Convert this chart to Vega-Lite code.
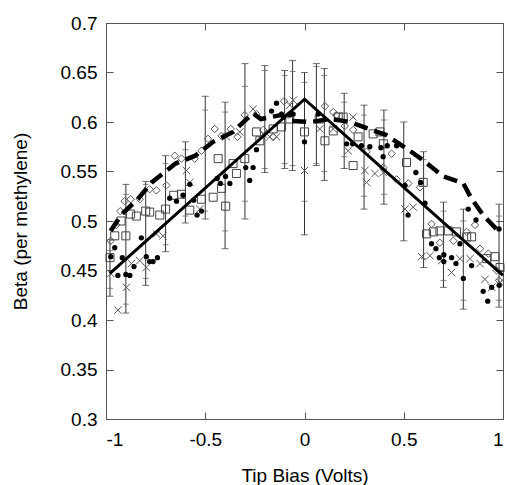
{
  "$schema": "https://vega.github.io/schema/vega-lite/v6.json",
  "autosize": "none",
  "width": 397,
  "height": 396,
  "padding": {"left": 106, "top": 23, "right": 4, "bottom": 66},
  "background": "white",
  "config": {
    "view": {"stroke": "#555", "strokeWidth": 1},
    "font": "Liberation Sans",
    "axis": {
      "labelFont": "Liberation Sans", "titleFont": "Liberation Sans",
      "labelFontSize": 19, "titleFontSize": 19, "titleFontWeight": "normal",
      "labelColor": "black", "titleColor": "black",
      "domainColor": "#555", "tickColor": "#555", "tickSize": -7, "tickWidth": 1, "grid": false
    }
  },
  "datasets": {
    "err": [
      {"x": -0.98, "lo": 0.424, "hi": 0.481},
      {"x": -0.9, "lo": 0.407, "hi": 0.537},
      {"x": -0.8, "lo": 0.435, "hi": 0.54},
      {"x": -0.7, "lo": 0.469, "hi": 0.566},
      {"x": -0.6, "lo": 0.498, "hi": 0.58},
      {"x": -0.5, "lo": 0.502, "hi": 0.626},
      {"x": -0.4, "lo": 0.472, "hi": 0.62},
      {"x": -0.3, "lo": 0.502, "hi": 0.659},
      {"x": -0.2, "lo": 0.549, "hi": 0.657},
      {"x": -0.1, "lo": 0.553, "hi": 0.652},
      {"x": -0.06, "lo": 0.551, "hi": 0.662},
      {"x": 0.0, "lo": 0.486, "hi": 0.65},
      {"x": 0.06, "lo": 0.556, "hi": 0.659},
      {"x": 0.1, "lo": 0.541, "hi": 0.654},
      {"x": 0.2, "lo": 0.553, "hi": 0.629},
      {"x": 0.3, "lo": 0.512, "hi": 0.617},
      {"x": 0.4, "lo": 0.517, "hi": 0.612},
      {"x": 0.5, "lo": 0.48, "hi": 0.6},
      {"x": 0.6, "lo": 0.453, "hi": 0.57},
      {"x": 0.7, "lo": 0.433, "hi": 0.519},
      {"x": 0.8, "lo": 0.411, "hi": 0.512},
      {"x": 0.98, "lo": 0.413, "hi": 0.517}
    ],
    "inner": [
      {"x": -0.98, "lo": 0.432, "hi": 0.47},
      {"x": -0.9, "lo": 0.416, "hi": 0.527},
      {"x": -0.8, "lo": 0.442, "hi": 0.537},
      {"x": -0.7, "lo": 0.476, "hi": 0.558},
      {"x": -0.6, "lo": 0.505, "hi": 0.572},
      {"x": -0.5, "lo": 0.51, "hi": 0.612},
      {"x": -0.4, "lo": 0.49, "hi": 0.61},
      {"x": -0.3, "lo": 0.52, "hi": 0.636},
      {"x": -0.2, "lo": 0.553, "hi": 0.652},
      {"x": -0.1, "lo": 0.558, "hi": 0.647},
      {"x": -0.06, "lo": 0.556, "hi": 0.651},
      {"x": 0.0, "lo": 0.52, "hi": 0.64},
      {"x": 0.06, "lo": 0.558, "hi": 0.656},
      {"x": 0.1, "lo": 0.55, "hi": 0.647},
      {"x": 0.2, "lo": 0.565, "hi": 0.62},
      {"x": 0.3, "lo": 0.525, "hi": 0.607},
      {"x": 0.4, "lo": 0.527, "hi": 0.602},
      {"x": 0.6, "lo": 0.462, "hi": 0.562},
      {"x": 0.7, "lo": 0.44, "hi": 0.51},
      {"x": 0.8, "lo": 0.42, "hi": 0.5},
      {"x": 0.98, "lo": 0.42, "hi": 0.505}
    ],
    "pts": [
      {"x": -0.976, "y": 0.464, "s": "circle"},
      {"x": -0.956, "y": 0.473, "s": "circle"},
      {"x": -0.94, "y": 0.445, "s": "circle"},
      {"x": -0.918, "y": 0.463, "s": "circle"},
      {"x": -0.9, "y": 0.446, "s": "circle"},
      {"x": -0.88, "y": 0.445, "s": "circle"},
      {"x": -0.859, "y": 0.454, "s": "circle"},
      {"x": -0.822, "y": 0.483, "s": "circle"},
      {"x": -0.797, "y": 0.464, "s": "circle"},
      {"x": -0.78, "y": 0.459, "s": "circle"},
      {"x": -0.763, "y": 0.459, "s": "circle"},
      {"x": -0.741, "y": 0.463, "s": "circle"},
      {"x": -0.679, "y": 0.523, "s": "circle"},
      {"x": -0.645, "y": 0.52, "s": "circle"},
      {"x": -0.612, "y": 0.526, "s": "circle"},
      {"x": -0.578, "y": 0.537, "s": "circle"},
      {"x": -0.558, "y": 0.521, "s": "circle"},
      {"x": -0.541, "y": 0.506, "s": "circle"},
      {"x": -0.519, "y": 0.51, "s": "circle"},
      {"x": -0.44, "y": 0.543, "s": "circle"},
      {"x": -0.424, "y": 0.538, "s": "circle"},
      {"x": -0.398, "y": 0.545, "s": "circle"},
      {"x": -0.376, "y": 0.538, "s": "circle"},
      {"x": -0.296, "y": 0.554, "s": "circle"},
      {"x": -0.276, "y": 0.541, "s": "circle"},
      {"x": -0.259, "y": 0.554, "s": "circle"},
      {"x": -0.242, "y": 0.572, "s": "circle"},
      {"x": -0.166, "y": 0.611, "s": "circle"},
      {"x": -0.141, "y": 0.619, "s": "circle"},
      {"x": -0.116, "y": 0.608, "s": "circle"},
      {"x": -0.074, "y": 0.607, "s": "circle"},
      {"x": -0.057, "y": 0.608, "s": "circle"},
      {"x": 0.0, "y": 0.58, "s": "circle"},
      {"x": 0.069, "y": 0.608, "s": "circle"},
      {"x": 0.212, "y": 0.578, "s": "circle"},
      {"x": 0.242, "y": 0.578, "s": "circle"},
      {"x": 0.287, "y": 0.576, "s": "circle"},
      {"x": 0.329, "y": 0.575, "s": "circle"},
      {"x": 0.385, "y": 0.574, "s": "circle"},
      {"x": 0.396, "y": 0.565, "s": "circle"},
      {"x": 0.417, "y": 0.576, "s": "circle"},
      {"x": 0.464, "y": 0.576, "s": "circle"},
      {"x": 0.506, "y": 0.536, "s": "circle"},
      {"x": 0.522, "y": 0.506, "s": "circle"},
      {"x": 0.561, "y": 0.549, "s": "circle"},
      {"x": 0.585, "y": 0.539, "s": "circle"},
      {"x": 0.607, "y": 0.518, "s": "circle"},
      {"x": 0.64, "y": 0.477, "s": "circle"},
      {"x": 0.662, "y": 0.472, "s": "circle"},
      {"x": 0.679, "y": 0.463, "s": "circle"},
      {"x": 0.702, "y": 0.466, "s": "circle"},
      {"x": 0.702, "y": 0.459, "s": "circle"},
      {"x": 0.741, "y": 0.463, "s": "circle"},
      {"x": 0.763, "y": 0.457, "s": "circle"},
      {"x": 0.783, "y": 0.477, "s": "circle"},
      {"x": 0.8, "y": 0.442, "s": "circle"},
      {"x": 0.825, "y": 0.512, "s": "circle"},
      {"x": 0.842, "y": 0.455, "s": "circle"},
      {"x": 0.864, "y": 0.501, "s": "circle"},
      {"x": 0.9, "y": 0.429, "s": "circle"},
      {"x": 0.923, "y": 0.419, "s": "circle"},
      {"x": 0.943, "y": 0.433, "s": "circle"},
      {"x": 0.98, "y": 0.492, "s": "circle"},
      {"x": 0.981, "y": 0.435, "s": "circle"},

      {"x": -0.976, "y": 0.48, "s": "diamond"},
      {"x": -0.948, "y": 0.496, "s": "diamond"},
      {"x": -0.928, "y": 0.51, "s": "diamond"},
      {"x": -0.906, "y": 0.52, "s": "diamond"},
      {"x": -0.876, "y": 0.522, "s": "diamond"},
      {"x": -0.83, "y": 0.522, "s": "diamond"},
      {"x": -0.78, "y": 0.532, "s": "diamond"},
      {"x": -0.746, "y": 0.531, "s": "diamond"},
      {"x": -0.696, "y": 0.536, "s": "diamond"},
      {"x": -0.654, "y": 0.566, "s": "diamond"},
      {"x": -0.62, "y": 0.563, "s": "diamond"},
      {"x": -0.553, "y": 0.563, "s": "diamond"},
      {"x": -0.519, "y": 0.571, "s": "diamond"},
      {"x": -0.486, "y": 0.583, "s": "diamond"},
      {"x": -0.452, "y": 0.593, "s": "diamond"},
      {"x": -0.418, "y": 0.586, "s": "diamond"},
      {"x": -0.371, "y": 0.593, "s": "diamond"},
      {"x": -0.338, "y": 0.585, "s": "diamond"},
      {"x": -0.301, "y": 0.607, "s": "diamond"},
      {"x": -0.242, "y": 0.608, "s": "diamond"},
      {"x": -0.208, "y": 0.592, "s": "diamond"},
      {"x": -0.158, "y": 0.585, "s": "diamond"},
      {"x": -0.103, "y": 0.621, "s": "diamond"},
      {"x": 0.103, "y": 0.616, "s": "diamond"},
      {"x": 0.145, "y": 0.61, "s": "diamond"},
      {"x": 0.161, "y": 0.607, "s": "diamond"},
      {"x": 0.203, "y": 0.596, "s": "diamond"},
      {"x": 0.245, "y": 0.592, "s": "diamond"},
      {"x": 0.313, "y": 0.57, "s": "diamond"},
      {"x": 0.397, "y": 0.554, "s": "diamond"},
      {"x": 0.439, "y": 0.568, "s": "diamond"},
      {"x": 0.464, "y": 0.542, "s": "diamond"},
      {"x": 0.523, "y": 0.538, "s": "diamond"},
      {"x": 0.582, "y": 0.534, "s": "diamond"},
      {"x": 0.64, "y": 0.497, "s": "diamond"},
      {"x": 0.682, "y": 0.478, "s": "diamond"},
      {"x": 0.75, "y": 0.48, "s": "diamond"},
      {"x": 0.817, "y": 0.489, "s": "diamond"},
      {"x": 0.859, "y": 0.496, "s": "diamond"},
      {"x": 0.884, "y": 0.472, "s": "diamond"},
      {"x": 0.926, "y": 0.467, "s": "diamond"},
      {"x": 0.968, "y": 0.45, "s": "diamond"},
      {"x": 0.98, "y": 0.44, "s": "diamond"},

      {"x": -0.98, "y": 0.463, "s": "square"},
      {"x": -0.956, "y": 0.485, "s": "square"},
      {"x": -0.924, "y": 0.5, "s": "square"},
      {"x": -0.9, "y": 0.485, "s": "square"},
      {"x": -0.876, "y": 0.507, "s": "square"},
      {"x": -0.847, "y": 0.505, "s": "square"},
      {"x": -0.8, "y": 0.51, "s": "square"},
      {"x": -0.78, "y": 0.509, "s": "square"},
      {"x": -0.729, "y": 0.506, "s": "square"},
      {"x": -0.7, "y": 0.512, "s": "square"},
      {"x": -0.659, "y": 0.526, "s": "square"},
      {"x": -0.62, "y": 0.527, "s": "square"},
      {"x": -0.578, "y": 0.511, "s": "square"},
      {"x": -0.519, "y": 0.522, "s": "square"},
      {"x": -0.46, "y": 0.524, "s": "square"},
      {"x": -0.435, "y": 0.563, "s": "square"},
      {"x": -0.418, "y": 0.533, "s": "square"},
      {"x": -0.397, "y": 0.515, "s": "square"},
      {"x": -0.36, "y": 0.558, "s": "square"},
      {"x": -0.343, "y": 0.548, "s": "square"},
      {"x": -0.301, "y": 0.563, "s": "square"},
      {"x": -0.242, "y": 0.59, "s": "square"},
      {"x": -0.225, "y": 0.581, "s": "square"},
      {"x": -0.158, "y": 0.593, "s": "square"},
      {"x": -0.116, "y": 0.595, "s": "square"},
      {"x": -0.074, "y": 0.603, "s": "square"},
      {"x": 0.0, "y": 0.59, "s": "square"},
      {"x": 0.074, "y": 0.603, "s": "square"},
      {"x": 0.103, "y": 0.581, "s": "square"},
      {"x": 0.145, "y": 0.591, "s": "square"},
      {"x": 0.17, "y": 0.605, "s": "square"},
      {"x": 0.195, "y": 0.605, "s": "square"},
      {"x": 0.245, "y": 0.556, "s": "square"},
      {"x": 0.27, "y": 0.585, "s": "square"},
      {"x": 0.346, "y": 0.588, "s": "square"},
      {"x": 0.38, "y": 0.59, "s": "square"},
      {"x": 0.397, "y": 0.578, "s": "square"},
      {"x": 0.514, "y": 0.559, "s": "square"},
      {"x": 0.598, "y": 0.539, "s": "square"},
      {"x": 0.615, "y": 0.487, "s": "square"},
      {"x": 0.649, "y": 0.489, "s": "square"},
      {"x": 0.682, "y": 0.49, "s": "square"},
      {"x": 0.724, "y": 0.49, "s": "square"},
      {"x": 0.766, "y": 0.489, "s": "square"},
      {"x": 0.817, "y": 0.484, "s": "square"},
      {"x": 0.842, "y": 0.484, "s": "square"},
      {"x": 0.918, "y": 0.462, "s": "square"},
      {"x": 0.96, "y": 0.464, "s": "square"},
      {"x": 0.985, "y": 0.453, "s": "square"},

      {"x": -0.976, "y": 0.447, "s": "cross"},
      {"x": -0.94, "y": 0.41, "s": "cross"},
      {"x": -0.897, "y": 0.433, "s": "cross"},
      {"x": -0.872, "y": 0.457, "s": "cross"},
      {"x": -0.83, "y": 0.46, "s": "cross"},
      {"x": -0.797, "y": 0.453, "s": "cross"},
      {"x": -0.746, "y": 0.487, "s": "cross"},
      {"x": -0.713, "y": 0.485, "s": "cross"},
      {"x": -0.595, "y": 0.551, "s": "cross"},
      {"x": -0.578, "y": 0.539, "s": "cross"},
      {"x": -0.528, "y": 0.512, "s": "cross"},
      {"x": -0.393, "y": 0.585, "s": "cross"},
      {"x": -0.326, "y": 0.59, "s": "cross"},
      {"x": -0.259, "y": 0.613, "s": "cross"},
      {"x": -0.208, "y": 0.588, "s": "cross"},
      {"x": -0.175, "y": 0.585, "s": "cross"},
      {"x": -0.141, "y": 0.585, "s": "cross"},
      {"x": -0.099, "y": 0.607, "s": "cross"},
      {"x": -0.074, "y": 0.617, "s": "cross"},
      {"x": -0.057, "y": 0.622, "s": "cross"},
      {"x": 0.0, "y": 0.551, "s": "cross"},
      {"x": 0.077, "y": 0.593, "s": "cross"},
      {"x": 0.145, "y": 0.593, "s": "cross"},
      {"x": 0.22, "y": 0.571, "s": "cross"},
      {"x": 0.245, "y": 0.605, "s": "cross"},
      {"x": 0.304, "y": 0.551, "s": "cross"},
      {"x": 0.313, "y": 0.539, "s": "cross"},
      {"x": 0.355, "y": 0.548, "s": "cross"},
      {"x": 0.397, "y": 0.549, "s": "cross"},
      {"x": 0.506, "y": 0.512, "s": "cross"},
      {"x": 0.548, "y": 0.514, "s": "cross"},
      {"x": 0.59, "y": 0.464, "s": "cross"},
      {"x": 0.632, "y": 0.465, "s": "cross"},
      {"x": 0.691, "y": 0.46, "s": "cross"},
      {"x": 0.741, "y": 0.448, "s": "cross"},
      {"x": 0.783, "y": 0.462, "s": "cross"},
      {"x": 0.834, "y": 0.462, "s": "cross"},
      {"x": 0.884, "y": 0.457, "s": "cross"},
      {"x": 0.909, "y": 0.441, "s": "cross"},
      {"x": 0.943, "y": 0.433, "s": "cross"},
      {"x": 0.985, "y": 0.438, "s": "cross"}
    ],
    "solid": [
      {"x": -0.98, "y": 0.447},
      {"x": 0.0, "y": 0.623},
      {"x": 1.0, "y": 0.445}
    ],
    "dashed": [
      {"x": -0.977, "y": 0.49},
      {"x": -0.92, "y": 0.507},
      {"x": -0.84, "y": 0.522},
      {"x": -0.77, "y": 0.539},
      {"x": -0.65, "y": 0.558},
      {"x": -0.55, "y": 0.566},
      {"x": -0.46, "y": 0.58},
      {"x": -0.36, "y": 0.59},
      {"x": -0.26, "y": 0.609},
      {"x": -0.22, "y": 0.603},
      {"x": -0.12, "y": 0.607},
      {"x": -0.07, "y": 0.601},
      {"x": 0.03, "y": 0.6},
      {"x": 0.13, "y": 0.603},
      {"x": 0.23, "y": 0.6},
      {"x": 0.31, "y": 0.594},
      {"x": 0.41, "y": 0.587},
      {"x": 0.53, "y": 0.571},
      {"x": 0.6, "y": 0.561},
      {"x": 0.7, "y": 0.545},
      {"x": 0.8, "y": 0.538},
      {"x": 0.84, "y": 0.523},
      {"x": 0.9, "y": 0.506},
      {"x": 0.99, "y": 0.487}
    ]
  },
  "resolve": {"axis": {"x": "independent", "y": "independent"}},
  "layer": [
    {
      "data": {"name": "err"},
      "mark": {"type": "rule", "color": "#333", "strokeWidth": 1},
      "encoding": {
        "x": {"field": "x", "type": "quantitative", "scale": {"domain": [-1, 1], "nice": false, "zero": false},
          "axis": {"orient": "bottom", "values": [-1, -0.5, 0, 0.5, 1], "labelExpr": "'' + datum.value", "labelPadding": 18, "title": "Tip Bias (Volts)", "titlePadding": 17, "domain": true}},
        "y": {"field": "lo", "type": "quantitative", "scale": {"domain": [0.3, 0.7], "nice": false, "zero": false},
          "axis": {"orient": "left", "values": [0.3, 0.35, 0.4, 0.45, 0.5, 0.55, 0.6, 0.65, 0.7], "labelExpr": "'' + datum.value", "labelPadding": 16, "title": "Beta (per methylene)", "titlePadding": 30}},
        "y2": {"field": "hi"}
      }
    },
    {
      "data": {"name": "err"},
      "mark": {"type": "tick", "color": "#333", "orient": "horizontal", "size": 7, "thickness": 1},
      "encoding": {
        "x": {"field": "x", "type": "quantitative", "axis": {"orient": "top", "values": [-1, -0.5, 0, 0.5, 1], "labels": false, "title": null}},
        "y": {"field": "lo", "type": "quantitative", "axis": {"orient": "right", "values": [0.3, 0.35, 0.4, 0.45, 0.5, 0.55, 0.6, 0.65, 0.7], "labels": false, "title": null}}
      }
    },
    {
      "data": {"name": "err"},
      "mark": {"type": "tick", "color": "#333", "orient": "horizontal", "size": 7, "thickness": 1},
      "encoding": {
        "x": {"field": "x", "type": "quantitative", "axis": null},
        "y": {"field": "hi", "type": "quantitative", "axis": null}
      }
    },
    {
      "data": {"name": "inner"},
      "mark": {"type": "tick", "color": "#555", "orient": "horizontal", "size": 6, "thickness": 1},
      "encoding": {
        "x": {"field": "x", "type": "quantitative", "axis": null},
        "y": {"field": "lo", "type": "quantitative", "axis": null}
      }
    },
    {
      "data": {"name": "inner"},
      "mark": {"type": "tick", "color": "#555", "orient": "horizontal", "size": 6, "thickness": 1},
      "encoding": {
        "x": {"field": "x", "type": "quantitative", "axis": null},
        "y": {"field": "hi", "type": "quantitative", "axis": null}
      }
    },
    {
      "data": {"name": "pts"},
      "transform": [{"filter": "datum.s === 'square'"}],
      "mark": {"type": "point", "shape": "square", "filled": false, "stroke": "#444", "strokeWidth": 1, "size": 64, "opacity": 1},
      "encoding": {
        "x": {"field": "x", "type": "quantitative", "axis": null},
        "y": {"field": "y", "type": "quantitative", "axis": null}
      }
    },
    {
      "data": {"name": "pts"},
      "transform": [{"filter": "datum.s === 'diamond'"}],
      "mark": {"type": "point", "shape": "diamond", "filled": false, "stroke": "#555", "strokeWidth": 1, "size": 55, "opacity": 1},
      "encoding": {
        "x": {"field": "x", "type": "quantitative", "axis": null},
        "y": {"field": "y", "type": "quantitative", "axis": null}
      }
    },
    {
      "data": {"name": "pts"},
      "transform": [{"filter": "datum.s === 'cross'"}],
      "mark": {"type": "point", "shape": "M-1,-1L1,1M1,-1L-1,1", "filled": false, "stroke": "#555", "strokeWidth": 1, "size": 55, "opacity": 1},
      "encoding": {
        "x": {"field": "x", "type": "quantitative", "axis": null},
        "y": {"field": "y", "type": "quantitative", "axis": null}
      }
    },
    {
      "data": {"name": "pts"},
      "transform": [{"filter": "datum.s === 'circle'"}],
      "mark": {"type": "circle", "color": "black", "size": 28, "opacity": 1},
      "encoding": {
        "x": {"field": "x", "type": "quantitative", "axis": null},
        "y": {"field": "y", "type": "quantitative", "axis": null}
      }
    },
    {
      "data": {"name": "solid"},
      "mark": {"type": "line", "color": "black", "strokeWidth": 3},
      "encoding": {
        "x": {"field": "x", "type": "quantitative", "axis": null},
        "y": {"field": "y", "type": "quantitative", "axis": null}
      }
    },
    {
      "data": {"name": "dashed"},
      "mark": {"type": "line", "color": "black", "strokeWidth": 4.5, "strokeDash": [14, 7]},
      "encoding": {
        "x": {"field": "x", "type": "quantitative", "axis": null},
        "y": {"field": "y", "type": "quantitative", "axis": null}
      }
    }
  ]
}
